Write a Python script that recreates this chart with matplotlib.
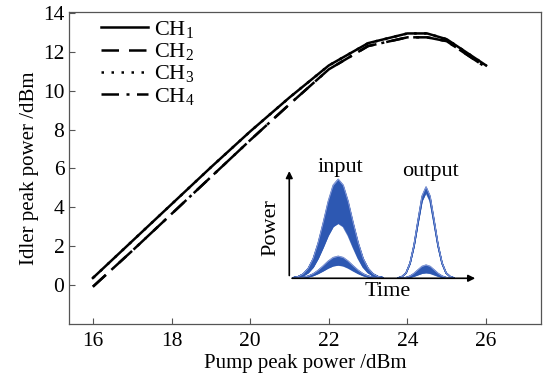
import numpy as np
import matplotlib
matplotlib.use("Agg")
import matplotlib.pyplot as plt

plt.rcParams["font.family"] = ["Liberation Serif", "DejaVu Serif"]
plt.rcParams["mathtext.fontset"] = "custom"
plt.rcParams["mathtext.rm"] = "Liberation Serif"
plt.rcParams["mathtext.it"] = "Liberation Serif:italic"

# main curves: idler peak power vs pump peak power
pump = [16, 17, 18, 19, 20, 21, 22, 23, 24, 24.5, 25, 26]
ch1 = [0.35, 2.25, 4.15, 6.05, 7.9, 9.65, 11.3, 12.45, 12.95, 12.95, 12.65, 11.3]
ch2 = [-0.1, 1.75, 3.65, 5.55, 7.45, 9.3, 11.1, 12.3, 12.75, 12.75, 12.55, 11.2]
ch3 = [0.35, 2.25, 4.15, 6.05, 7.9, 9.65, 11.3, 12.45, 12.95, 12.95, 12.65, 11.3]
ch4 = [-0.1, 1.75, 3.65, 5.55, 7.45, 9.3, 11.1, 12.3, 12.75, 12.75, 12.55, 11.2]

# inset: pulse profiles (offset, normalised height)
in_off = [-45, -40, -35, -30, -25, -20, -15, -10, -5, 0, 5, 10, 15, 20, 25, 30, 35, 40, 45]
in_shape = [0.006, 0.017, 0.044, 0.10, 0.20, 0.36, 0.56, 0.775, 0.94, 1.0,
            0.94, 0.775, 0.56, 0.36, 0.20, 0.10, 0.044, 0.017, 0.006]
out_off = [-28, -24, -20, -16, -12, -8, -4, 0, 4, 8, 12, 16, 20, 24, 28]
out_shape = [0.004, 0.02, 0.06, 0.17, 0.37, 0.64, 0.9, 1.0, 0.9, 0.64, 0.37, 0.17, 0.06, 0.02, 0.004]
in_center = 49
out_center = 137
in_amps = [0.90, 0.88, 0.86, 0.84, 0.82, 0.80, 0.78, 0.76, 0.74, 0.72, 0.70, 0.68,
           0.66, 0.64, 0.62, 0.60, 0.58, 0.56, 0.54, 0.52, 0.50,
           0.20, 0.19, 0.18, 0.17, 0.16, 0.15, 0.14, 0.13, 0.12]
out_amps = [0.83, 0.82, 0.81, 0.80, 0.79, 0.78,
            0.12, 0.11, 0.10, 0.09, 0.08, 0.07, 0.06, 0.05]

fig = plt.figure(figsize=(5.59, 3.78), dpi=100)
ax = fig.add_axes([0.124, 0.144, 0.844, 0.824])

ax.plot(pump, ch1, color="black", lw=1.8, ls="-", label="CH$_1$")
ax.plot(pump, ch2, color="black", lw=1.8, ls=(0, (7, 4)), label="CH$_2$")
ax.plot(pump, ch3, color="black", lw=1.8, ls=(0, (1, 3)), label="CH$_3$")
ax.plot(pump, ch4, color="black", lw=1.8, ls=(0, (7, 3, 1.2, 3)), label="CH$_4$")

ax.set_xlim(15.4, 27.4)
ax.set_ylim(-2, 14.05)
ax.set_xticks([16, 18, 20, 22, 24, 26])
ax.set_yticks([0, 2, 4, 6, 8, 10, 12, 14])
ax.tick_params(direction="in", length=4, width=0.8, color="#555555", labelsize=15.5)
ax.tick_params(axis="x", pad=6)
for s in ax.spines.values():
    s.set_color("#555555")
    s.set_linewidth(0.9)
ax.set_xlabel("Pump peak power /dBm", fontsize=15, labelpad=2)
ax.set_ylabel("Idler peak power /dBm", fontsize=15, labelpad=3)

ax.legend(loc="upper left", frameon=False, fontsize=16, handlelength=2.15,
          handletextpad=0.25, labelspacing=0.05, borderaxespad=0.2,
          bbox_to_anchor=(0.038, 1.02))

# inset
ins = fig.add_axes([0.5175, 0.2638, 0.3376, 0.291])
ins.set_xlim(0, 189)
ins.set_ylim(0, 1)
ins.axis("off")
blue = "#2d58b2"
light = "#8e9fdc"
for center, off, shape, amps in [(in_center, in_off, in_shape, in_amps),
                                  (out_center, out_off, out_shape, out_amps)]:
    t = np.array(off) + center
    sh = np.array(shape)
    hi = [a for a in amps if a > 0.3]
    lo = [a for a in amps if a <= 0.3]
    for grp in (hi, lo):
        ins.fill_between(t, min(grp) * sh, max(grp) * sh, color=blue, lw=0)
        for a in grp:
            ins.plot(t, a * sh, color=blue, lw=1.0, alpha=0.8)
        ins.plot(t, max(grp) * sh, color=light, lw=0.6)
ins.annotate("", xy=(189, 0), xytext=(0, 0), xycoords="data",
             arrowprops=dict(arrowstyle="-|>", color="black", lw=1.2, mutation_scale=10))
ins.annotate("", xy=(0, 1.0), xytext=(0, 0), xycoords="data",
             arrowprops=dict(arrowstyle="-|>", color="black", lw=1.2, mutation_scale=10))
ins.text(51, 1.01, "input", ha="center", va="center", fontsize=16)
ins.text(141, 0.97, "output", ha="center", va="center", fontsize=16)
ins.text(-18, 0.46, "Power", ha="center", va="center", rotation=90, fontsize=16)
ins.text(99, -0.12, "Time", ha="center", va="center", fontsize=16)

fig.savefig("out.png", dpi=100)
